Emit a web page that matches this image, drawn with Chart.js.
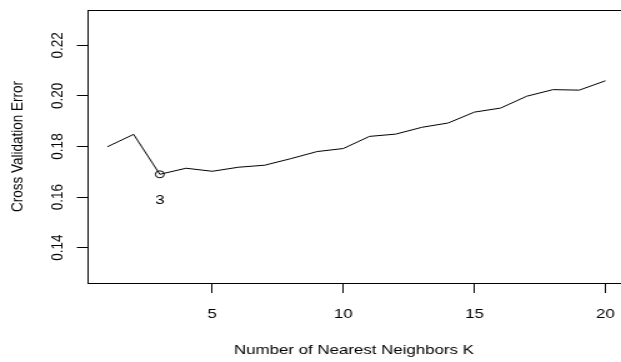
<!DOCTYPE html>
<html>
<head>
<meta charset="utf-8">
<script src="https://cdn.jsdelivr.net/npm/chart.js@4/dist/chart.umd.min.js"></script>
<style>
  html, body { margin: 0; padding: 0; background: #fff; overflow: hidden; }
  /* the reference is an R plot stretched sideways, so draw narrow and stretch */
  #wrap { width: 497px; height: 362px; transform: scaleX(1.2495); transform-origin: 0 0; }
</style>
</head>
<body>
<div id="wrap"><canvas id="cvChart"></canvas></div>
<script>
var kValues = [1, 2, 3, 4, 5, 6, 7, 8, 9, 10, 11, 12, 13, 14, 15, 16, 17, 18, 19, 20];
var cvErrors = [0.1799, 0.1848, 0.1690, 0.1714, 0.1702, 0.1718, 0.1726, 0.1752, 0.1780, 0.1792,
                0.1840, 0.1849, 0.1876, 0.1893, 0.1936, 0.1952, 0.1999, 0.2025, 0.2023, 0.2060];
var xTicks = [5, 10, 15, 20];
var yTicks = [0.14, 0.16, 0.18, 0.20, 0.22];
var yTickLabels = ["0.14", "0.16", "0.18", "0.20", "0.22"];

var fontFam = '"Liberation Sans", Arial, Helvetica, sans-serif';
var fontSize = 13.5;

// index of the smallest error -> circled and labelled
var best = 0;
for (var i = 1; i < cvErrors.length; i++) {
  if (cvErrors[i] < cvErrors[best]) best = i;
}

var points = kValues.map(function(k, i) { return { x: k, y: cvErrors[i] }; });

var rPlot = {
  id: 'rPlot',
  afterDraw: function(chart) {
    var ctx = chart.ctx;
    var area = chart.chartArea;
    var ys = chart.scales.y;
    ctx.save();
    // top edge of the box (right edge falls outside the picture)
    ctx.strokeStyle = '#000';
    ctx.lineWidth = 1;
    ctx.beginPath();
    ctx.moveTo(area.left, Math.round(area.top) + 0.5);
    ctx.lineTo(chart.width, Math.round(area.top) + 0.5);
    ctx.stroke();

    // y tick labels, parallel to the axis like R
    ctx.fillStyle = '#000';
    ctx.font = fontSize + 'px ' + fontFam;
    ctx.textAlign = 'center';
    ctx.textBaseline = 'middle';
    ys.ticks.forEach(function(t, i) {
      var py = ys.getPixelForValue(t.value);
      ctx.save();
      ctx.translate(46, py);
      ctx.rotate(-Math.PI / 2);
      ctx.fillText(yTickLabels[i], 0, 0);
      ctx.restore();
    });

    // label under the best k
    var pt = chart.getDatasetMeta(0).data[best];
    ctx.fillText(String(kValues[best]), pt.x, pt.y + 26);
    ctx.restore();
  }
};

new Chart(document.getElementById('cvChart'), {
  type: 'line',
  data: {
    datasets: [{
      data: points,
      borderColor: '#000',
      borderWidth: 1,
      backgroundColor: 'transparent',
      fill: false,
      tension: 0,
      clip: false,
      pointRadius: function(c) { return c.dataIndex === best ? 3.5 : 0; },
      pointBorderColor: '#000',
      pointBackgroundColor: 'transparent',
      pointBorderWidth: 1
    }]
  },
  options: {
    responsive: true,
    maintainAspectRatio: false,
    animation: false,
    layout: { padding: { top: 10, right: 0, left: 0, bottom: 0 } },
    plugins: { legend: { display: false }, tooltip: { enabled: false } },
    scales: {
      x: {
        type: 'linear',
        min: 0.24,
        max: 20.57,
        afterBuildTicks: function(s) { s.ticks = xTicks.map(function(v) { return { value: v }; }); },
        afterFit: function(s) { s.height = 79; s.paddingLeft = 0; s.paddingRight = 0; },
        grid: { display: true, drawOnChartArea: false, drawTicks: true, tickLength: 10, color: '#000' },
        border: { display: true, color: '#000', width: 1 },
        ticks: { color: '#000', padding: 13, maxRotation: 0, font: { family: fontFam, size: fontSize } },
        title: {
          display: true,
          text: 'Number of Nearest Neighbors K',
          color: '#000',
          font: { family: fontFam, size: fontSize },
          padding: { top: 0, bottom: 4 }
        }
      },
      y: {
        type: 'linear',
        min: 0.126,
        max: 0.234,
        afterBuildTicks: function(s) { s.ticks = yTicks.map(function(v) { return { value: v }; }); },
        afterFit: function(s) { s.width = 70; s.paddingTop = 0; s.paddingBottom = 0; },
        grid: { display: true, drawOnChartArea: false, drawTicks: true, tickLength: 8.5, color: '#000' },
        border: { display: true, color: '#000', width: 1 },
        ticks: { display: false },
        title: {
          display: true,
          text: 'Cross Validation Error',
          color: '#000',
          font: { family: fontFam, size: fontSize },
          padding: { top: 6, bottom: 0 }
        }
      }
    }
  },
  plugins: [rPlot]
});
</script>
</body>
</html>
